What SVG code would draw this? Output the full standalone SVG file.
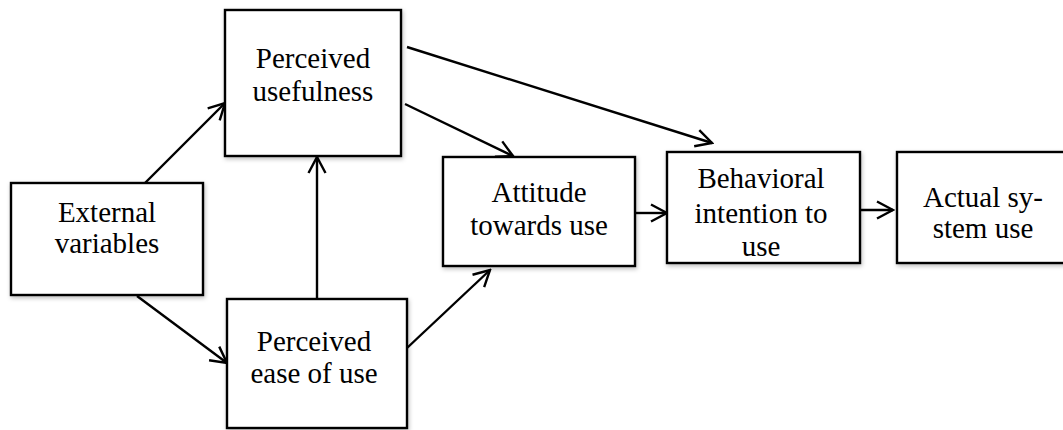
<svg xmlns="http://www.w3.org/2000/svg" width="1063" height="430" viewBox="0 0 1063 430">
<style>
.box{fill:#fff;stroke:#000;stroke-width:2.4;filter:url(#sh)}
.lbl{font-family:'Liberation Serif','DejaVu Serif',serif;font-size:29px;fill:#000;text-anchor:middle}
.con{stroke:#000;stroke-width:2.4;fill:none;marker-end:url(#arr)}
</style>
<defs>
<filter id="sh" x="-10%" y="-10%" width="130%" height="130%">
<feDropShadow dx="1" dy="2" stdDeviation="2" flood-color="#000" flood-opacity="0.25"/>
</filter>
<marker id="arr" markerUnits="userSpaceOnUse" viewBox="0 0 20 20" refX="18" refY="10" markerWidth="20" markerHeight="20" orient="auto">
<path d="M2,1.5 L18,10 L2,18.5" fill="none" stroke="#000" stroke-width="2.4"/>
</marker>
</defs>
<rect width="1063" height="430" fill="#fff"/>
<g id="connectors">
<line class="con" x1="145" y1="183" x2="225" y2="103"/>
<line class="con" x1="137" y1="296" x2="227" y2="363"/>
<line class="con" x1="317" y1="299" x2="317" y2="157"/>
<line class="con" x1="405" y1="104" x2="513" y2="156"/>
<line class="con" x1="407" y1="47" x2="712" y2="143"/>
<line class="con" x1="407" y1="348" x2="490" y2="270"/>
<line class="con" x1="635" y1="213" x2="667" y2="213"/>
<line class="con" x1="853" y1="210" x2="893" y2="210"/>
</g>
<g id="perceived-usefulness">
<rect class="box" x="225" y="10" width="176" height="146"/>
<text class="lbl" x="313" y="68">Perceived</text>
<text class="lbl" x="313" y="101">usefulness</text>
</g>
<g id="external-variables">
<rect class="box" x="11" y="183" width="192" height="112"/>
<text class="lbl" x="107" y="222">External</text>
<text class="lbl" x="107" y="253">variables</text>
</g>
<g id="perceived-ease-of-use">
<rect class="box" x="227" y="299" width="180" height="129"/>
<text class="lbl" x="314" y="351">Perceived</text>
<text class="lbl" x="314" y="383">ease of use</text>
</g>
<g id="attitude">
<rect class="box" x="443" y="157" width="192" height="109"/>
<text class="lbl" x="539" y="202">Attitude</text>
<text class="lbl" x="539" y="235">towards use</text>
</g>
<g id="behavioral-intention">
<rect class="box" x="667" y="152" width="193" height="111"/>
<text class="lbl" x="761" y="188">Behavioral</text>
<text class="lbl" x="761" y="223">intention to</text>
<text class="lbl" x="761" y="256">use</text>
</g>
<g id="actual-system-use">
<rect class="box" x="897" y="152" width="172" height="111"/>
<text class="lbl" x="983" y="207">Actual sy-</text>
<text class="lbl" x="983" y="238">stem use</text>
</g>
</svg>
